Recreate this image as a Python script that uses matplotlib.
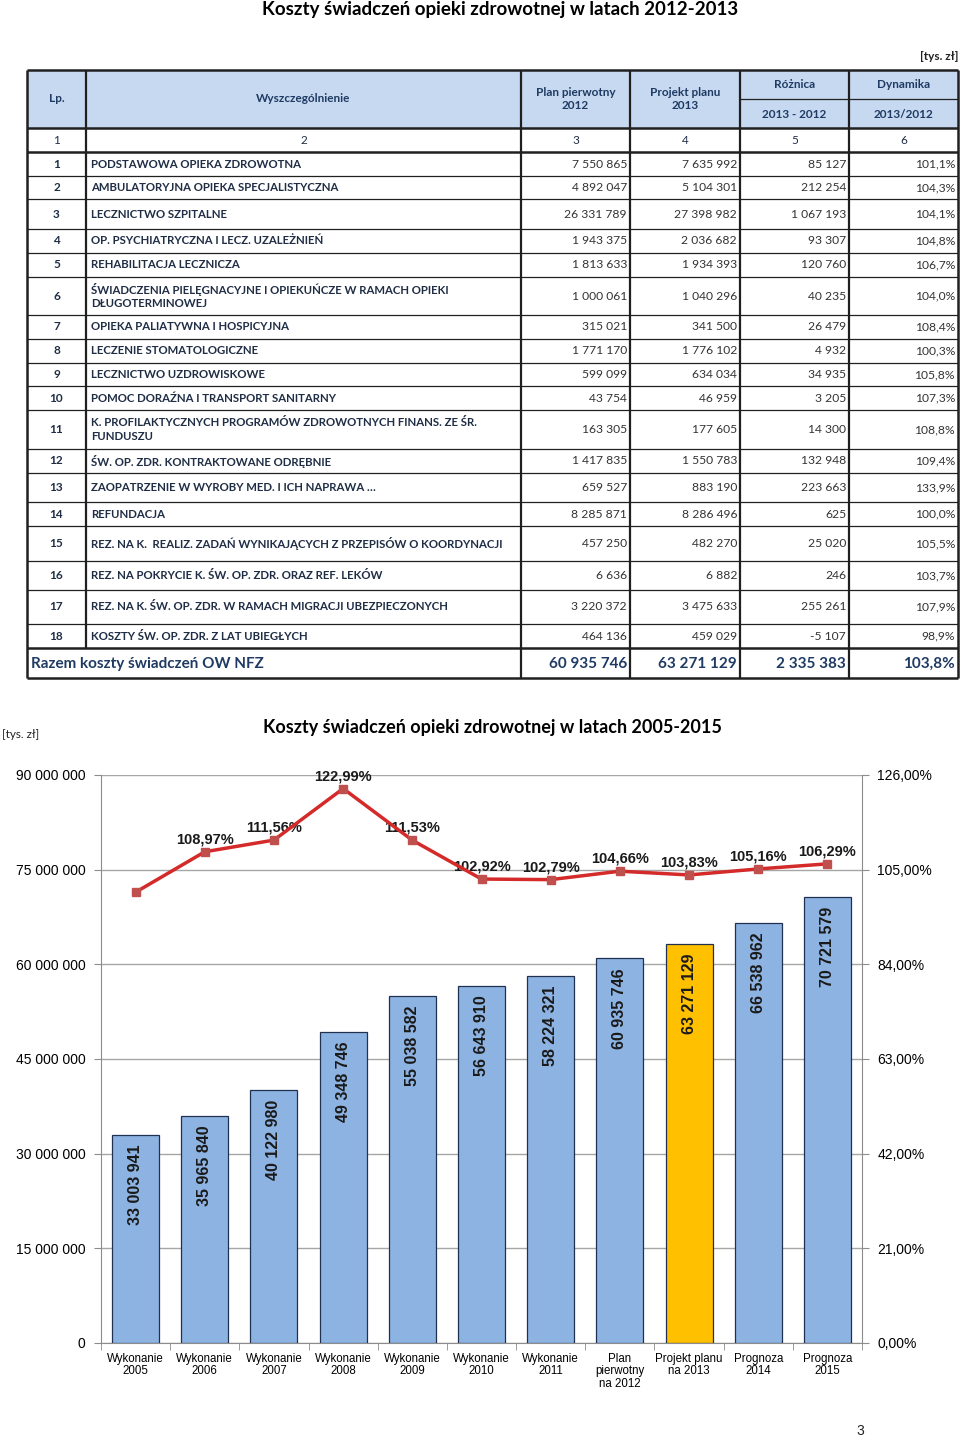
import matplotlib
matplotlib.use("Agg")
import matplotlib.pyplot as plt
from matplotlib.patches import Rectangle
from matplotlib.ticker import FixedLocator, FuncFormatter
from matplotlib import font_manager

# ---------------- data: table ----------------
lp = list(range(1, 19))
names = [
    "PODSTAWOWA OPIEKA ZDROWOTNA",
    "AMBULATORYJNA OPIEKA SPECJALISTYCZNA",
    "LECZNICTWO SZPITALNE",
    "OP. PSYCHIATRYCZNA I LECZ. UZALEŻNIEŃ",
    "REHABILITACJA LECZNICZA",
    "ŚWIADCZENIA PIELĘGNACYJNE I OPIEKUŃCZE W RAMACH OPIEKI\nDŁUGOTERMINOWEJ",
    "OPIEKA PALIATYWNA I HOSPICYJNA",
    "LECZENIE STOMATOLOGICZNE",
    "LECZNICTWO UZDROWISKOWE",
    "POMOC DORAŹNA I TRANSPORT SANITARNY",
    "K. PROFILAKTYCZNYCH PROGRAMÓW ZDROWOTNYCH FINANS. ZE ŚR.\nFUNDUSZU",
    "ŚW. OP. ZDR. KONTRAKTOWANE ODRĘBNIE",
    "ZAOPATRZENIE W WYROBY MED. I ICH NAPRAWA …",
    "REFUNDACJA",
    "REZ. NA K.  REALIZ. ZADAŃ WYNIKAJĄCYCH Z PRZEPISÓW O KOORDYNACJI",
    "REZ. NA POKRYCIE K. ŚW. OP. ZDR. ORAZ REF. LEKÓW",
    "REZ. NA K. ŚW. OP. ZDR. W RAMACH MIGRACJI UBEZPIECZONYCH",
    "KOSZTY ŚW. OP. ZDR. Z LAT UBIEGŁYCH",
]
plan_2012 = [7550865, 4892047, 26331789, 1943375, 1813633, 1000061, 315021, 1771170,
             599099, 43754, 163305, 1417835, 659527, 8285871, 457250, 6636, 3220372, 464136]
proj_2013 = [7635992, 5104301, 27398982, 2036682, 1934393, 1040296, 341500, 1776102,
             634034, 46959, 177605, 1550783, 883190, 8286496, 482270, 6882, 3475633, 459029]
diff = [85127, 212254, 1067193, 93307, 120760, 40235, 26479, 4932,
        34935, 3205, 14300, 132948, 223663, 625, 25020, 246, 255261, -5107]
dyn = [101.1, 104.3, 104.1, 104.8, 106.7, 104.0, 108.4, 100.3,
       105.8, 107.3, 108.8, 109.4, 133.9, 100.0, 105.5, 103.7, 107.9, 98.9]
total_label = "Razem koszty świadczeń OW NFZ"
total_vals = [60935746, 63271129, 2335383]
total_dyn = 103.8

# ---------------- data: chart ----------------
categories = ["Wykonanie\n2005", "Wykonanie\n2006", "Wykonanie\n2007", "Wykonanie\n2008",
              "Wykonanie\n2009", "Wykonanie\n2010", "Wykonanie\n2011",
              "Plan\npierwotny\nna 2012", "Projekt planu\nna 2013", "Prognoza\n2014", "Prognoza\n2015"]
costs = [33003941, 35965840, 40122980, 49348746, 55038582, 56643910, 58224321,
         60935746, 63271129, 66538962, 70721579]
dynamics = [100.0, 108.97, 111.56, 122.99, 111.53, 102.92, 102.79, 104.66, 103.83, 105.16, 106.29]
dyn_labels = ["", "108,97%", "111,56%", "122,99%", "111,53%", "102,92%", "102,79%",
              "104,66%", "103,83%", "105,16%", "106,29%"]
highlight = 8


def fmt_int(v):
    s = "{:,}".format(abs(v)).replace(",", " ")
    return ("-" if v < 0 else "") + s


def fmt_pct(v):
    return ("%.1f" % v).replace(".", ",") + "%"


installed = {f.name for f in font_manager.fontManager.ttflist}
if "Liberation Sans Narrow" in installed:
    XF, XFS = "Liberation Sans Narrow", 9.5
else:
    XF, XFS = "Liberation Sans", 8.3

W, H = 960, 1439
fig = plt.figure(figsize=(W / 100, H / 100), dpi=100)

# ---------------- table (pixel-coordinate canvas) ----------------
ax_t = fig.add_axes([0, 0, 1, 1])
ax_t.set_xlim(0, W)
ax_t.set_ylim(H, 0)
ax_t.axis("off")

TF = "Lato"
hdr_col = "#1F3B63"
txt_col = "#1F2D45"
num_col = "#333333"
fill = "#C6D9F1"

xcols = [27, 86, 521, 630, 740, 849, 958]
y_head_top, y_head_mid, y_head_bot, y_num_bot = 70, 99, 128, 152
row_edges = [152, 176, 199, 229, 253, 277, 315, 339, 363, 386, 410, 449, 473, 502, 526, 561, 590, 624, 648]
y_total_bot = 678

ax_t.text(500, 10, "Koszty świadczeń opieki zdrowotnej w latach 2012-2013", family=TF,
          fontsize=13.5, fontweight="bold", ha="center", va="center", color="black")
ax_t.text(958, 57, "[tys. zł]", family=TF, fontsize=8.5, fontweight="bold",
          ha="right", va="center", color="#222222")

# header fill
for i in range(6):
    ax_t.add_patch(Rectangle((xcols[i], y_head_top), xcols[i + 1] - xcols[i],
                             y_head_bot - y_head_top, facecolor=fill, edgecolor="none", zorder=0))

hdr_kw = dict(family=TF, fontsize=8.5, fontweight="bold", color=hdr_col, ha="center",
              va="center", linespacing=1.25)
ax_t.text((xcols[0] + xcols[1]) / 2, 99, "Lp.", **hdr_kw)
ax_t.text((xcols[1] + xcols[2]) / 2, 99, "Wyszczególnienie", **hdr_kw)
ax_t.text((xcols[2] + xcols[3]) / 2, 99, "Plan pierwotny\n2012", **hdr_kw)
ax_t.text((xcols[3] + xcols[4]) / 2, 99, "Projekt planu\n2013", **hdr_kw)
ax_t.text((xcols[4] + xcols[5]) / 2, 84, "Różnica", **hdr_kw)
ax_t.text((xcols[4] + xcols[5]) / 2, 114, "2013 - 2012", **hdr_kw)
ax_t.text((xcols[5] + xcols[6]) / 2, 84, "Dynamika", **hdr_kw)
ax_t.text((xcols[5] + xcols[6]) / 2, 114, "2013/2012", **hdr_kw)

for i in range(6):
    ax_t.text((xcols[i] + xcols[i + 1]) / 2, 140, str(i + 1), family=TF, fontsize=8.5,
              color=txt_col, ha="center", va="center")

for r in range(18):
    yc = (row_edges[r] + row_edges[r + 1]) / 2
    ax_t.text((xcols[0] + xcols[1]) / 2, yc, str(lp[r]), family=TF, fontsize=8.5,
              fontweight="bold", color=txt_col, ha="center", va="center")
    ax_t.text(xcols[1] + 5, yc, names[r], family=TF, fontsize=8.2, fontweight="bold",
              color=txt_col, ha="left", va="center", linespacing=1.3)
    vals = [fmt_int(plan_2012[r]), fmt_int(proj_2013[r]), fmt_int(diff[r]), fmt_pct(dyn[r])]
    for j, s in enumerate(vals):
        ax_t.text(xcols[3 + j] - 3, yc, s, family=TF, fontsize=8.7, color=num_col,
                  ha="right", va="center")

yc = (row_edges[-1] + y_total_bot) / 2 + 1
ax_t.text(xcols[0] + 4, yc, total_label, family=TF, fontsize=11, fontweight="bold",
          color=hdr_col, ha="left", va="center")
tvals = [fmt_int(v) for v in total_vals] + [fmt_pct(total_dyn)]
for j, s in enumerate(tvals):
    ax_t.text(xcols[3 + j] - 3, yc, s, family=TF, fontsize=11, fontweight="bold",
              color=hdr_col, ha="right", va="center")

lc = "#202020"
ax_t.hlines([y_head_top, y_head_bot, y_num_bot, row_edges[-1], y_total_bot], xcols[0], xcols[-1],
            colors=lc, lw=1.8)
ax_t.hlines(row_edges[1:-1], xcols[0], xcols[-1], colors=lc, lw=0.9)
ax_t.hlines([y_head_mid], xcols[4], xcols[6], colors=lc, lw=0.9)
ax_t.vlines([xcols[0], xcols[-1]], y_head_top, y_total_bot, colors=lc, lw=1.8)
ax_t.vlines(xcols[1], y_head_top, row_edges[-1], colors=lc, lw=1.6)
ax_t.vlines(xcols[2:-1], y_head_top, y_total_bot, colors=lc, lw=1.6)

# ---------------- chart ----------------
CF = "Liberation Sans"
ax_t.text(2, 734, "[tys. zł]", family=TF, fontsize=8.5, ha="left", va="center", color="#222222")
ax_t.text(492, 728, "Koszty świadczeń opieki zdrowotnej w latach 2005-2015", family=TF,
          fontsize=13, fontweight="bold", ha="center", va="center", color="black")

left, right, top, bottom = 101, 862, 775, 1343
ax = fig.add_axes([left / W, (H - bottom) / H, (right - left) / W, (bottom - top) / H])
x = list(range(len(categories)))
colors = ["#FFC000" if i == highlight else "#8DB3E2" for i in x]
bars = ax.bar(x, costs, width=0.68, color=colors, edgecolor="#1F3050", linewidth=0.9, zorder=3)
ax.set_xlim(-0.5, len(categories) - 0.5)
ax.set_ylim(0, 90000000)
ax.yaxis.set_major_locator(FixedLocator([i * 15000000 for i in range(7)]))
ax.yaxis.set_major_formatter(FuncFormatter(lambda v, p: fmt_int(int(v))))
ax.grid(axis="y", color="#A6A6A6", lw=1.0, zorder=0)
ax.set_axisbelow(True)
ax.set_xticks(x)
ax.set_xticklabels(categories, family=XF, fontsize=XFS, linespacing=1.05)
ax.xaxis.set_minor_locator(FixedLocator([i - 0.5 for i in range(len(categories) + 1)]))
ax.tick_params(axis="x", which="major", length=0, pad=7)
ax.tick_params(axis="x", which="minor", length=5, color="#8C8C8C", direction="out")
ax.tick_params(axis="y", length=5, color="#8C8C8C", pad=6, labelsize=10)
for lab in ax.get_yticklabels():
    lab.set_family(CF)
for s in ["left", "right", "bottom"]:
    ax.spines[s].set_color("#8C8C8C")
ax.spines["top"].set_visible(False)

for b, v in zip(bars, costs):
    ax.annotate(fmt_int(v), (b.get_x() + b.get_width() / 2, v), xytext=(0, -7),
                textcoords="offset points", rotation=90, ha="center", va="top",
                family=CF, fontsize=11.5, fontweight="bold", color="#1A1A1A", zorder=4)

ax2 = ax.twinx()
ax2.set_ylim(0, 126)
ax2.yaxis.set_major_locator(FixedLocator([i * 21 for i in range(7)]))
ax2.yaxis.set_major_formatter(FuncFormatter(lambda v, p: ("%.2f" % v).replace(".", ",") + "%"))
ax2.tick_params(axis="y", length=5, color="#8C8C8C", pad=6, labelsize=10)
for lab in ax2.get_yticklabels():
    lab.set_family(CF)
for s in ["left", "right", "bottom", "top"]:
    ax2.spines[s].set_visible(False)
ax2.plot(x, dynamics, color="#D42A2A", lw=2.5, marker="s", markersize=6,
         markerfacecolor="#C0504D", markeredgecolor="#C0504D", zorder=5)
for xi, v, lab in zip(x, dynamics, dyn_labels):
    if lab:
        ax2.annotate(lab, (xi, v), xytext=(0, 4), textcoords="offset points", ha="center",
                     va="bottom", family=CF, fontsize=10.5, fontweight="bold", color="#1A1A1A")

ax_t.text(860, 1431, "3", family=CF, fontsize=10, ha="center", va="center", color="#222222")

fig.savefig("out.png", dpi=100)
